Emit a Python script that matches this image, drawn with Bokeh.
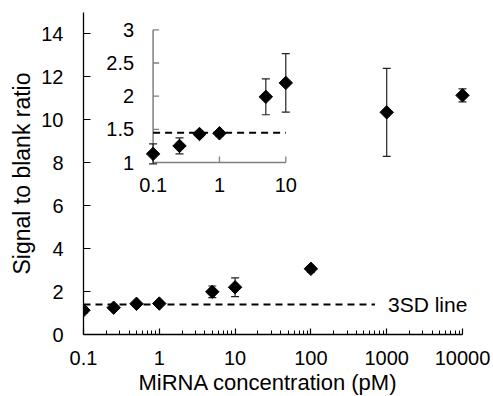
import math
from bokeh.plotting import figure
from bokeh.models import FixedTicker, CustomJSTickFormatter, Range1d, LogScale, Label, Title
from bokeh.core.properties import value
from bokeh.embed import file_html
from bokeh.resources import INLINE

# ---------------- data ----------------
CONC = [0.1, 0.25, 0.5, 1, 5, 10, 100, 1000, 10000]
RATIO = [1.13, 1.25, 1.43, 1.44, 1.99, 2.2, 3.06, 10.35, 11.14]
ERR = [0.15, 0.12, 0.04, 0.04, 0.27, 0.44, 0.15, 2.05, 0.3]
INSET_N = 6
THRESH_MAIN = 1.4
THRESH_INSET = 1.45
SD_LINE_END = 700
X_MIN, X_MAX = 0.1, 10000
Y_MIN, Y_MAX = 0, 15
X_TICKS = [0.1, 1, 10, 100, 1000, 10000]
X_TICK_LABELS = ["0.1", "1", "10", "100", "1000", "10000"]
Y_TICKS = [0, 2, 4, 6, 8, 10, 12, 14]
INSET_X_TICKS = [0.1, 1, 10]
INSET_X_LABELS = ["0.1", "1", "10"]
INSET_Y_TICKS = [1, 1.5, 2, 2.5, 3]
INSET_Y_LABELS = ["1", "1.5", "2", "2.5", "3"]
X_TITLE = "MiRNA concentration (pM)"
Y_TITLE = "Signal to blank ratio"

FONT = "Liberation Sans"

# ---------------- layout ----------------
W, H = 493, 396
BL, BT = 83, 12
AXW, FH = 379, 322          # pixel length of the drawn x axis, frame height
FW = W - BL                 # frame extends to right edge so the label is not clipped
BR, BB = W - BL - FW, H - BT - FH
# inset box in frame pixels (left/right from frame left, bottom/top from frame bottom)
IL, IR, IB, IT = 69.6, 202.3, 172.0, 304.7
X_TITLE_OFFSET = 55

decades_per_px = (math.log10(X_MAX) - math.log10(X_MIN)) / AXW
x_end = 10 ** (math.log10(X_MAX) + (FW - AXW) * decades_per_px)

p = figure(width=W, height=H, x_axis_type="log", x_range=Range1d(X_MIN, x_end),
           y_range=Range1d(Y_MIN, Y_MAX),
           output_backend="svg", toolbar_location=None,
           min_border_left=BL, min_border_right=BR, min_border_top=BT, min_border_bottom=BB)
p.outline_line_color = None
p.xgrid.visible = False
p.ygrid.visible = False
p.background_fill_color = "white"
p.border_fill_color = "white"

# main axes
minor = [m * 10 ** k for k in range(-1, 4) for m in range(2, 10)]
p.xaxis.ticker = FixedTicker(ticks=X_TICKS, minor_ticks=minor)
p.xaxis.bounds = (X_MIN, X_MAX)
p.xaxis.formatter = CustomJSTickFormatter(args=dict(tv=X_TICKS, tl=X_TICK_LABELS), code="""
for (let i = 0; i < tv.length; i++) {
  if (Math.abs(tv[i] - tick) <= 1e-9 * Math.max(1, Math.abs(tick))) return tl[i];
}
return '';
""")
p.yaxis.ticker = FixedTicker(ticks=Y_TICKS, minor_ticks=[])
for ax in (p.xaxis[0], p.yaxis[0]):
    ax.axis_line_color = "black"
    ax.axis_line_width = 1.3
    ax.major_tick_line_color = "black"
    ax.major_tick_line_width = 1.2
    ax.minor_tick_line_color = "black"
    ax.minor_tick_line_width = 1
    ax.major_tick_out = 0
    ax.minor_tick_out = 0
    ax.major_label_text_font = FONT
    ax.major_label_text_font_size = "20px"
    ax.major_label_text_color = "black"
    ax.axis_label_text_font = FONT
    ax.axis_label_text_font_style = "normal"
    ax.axis_label_text_color = "black"

p.xaxis.major_tick_in = 6
p.xaxis.minor_tick_in = 4
p.xaxis.major_label_standoff = 16

p.yaxis.major_tick_in = 7
p.yaxis.minor_tick_in = 0
p.yaxis.major_label_standoff = 20
p.yaxis.axis_label = Y_TITLE
p.yaxis.axis_label_text_font_size = "23px"
p.yaxis.axis_label_standoff = 3

# x-axis title placed under the drawn axis (the frame is wider than the axis)
p.add_layout(Title(text=X_TITLE, align="left", offset=X_TITLE_OFFSET, standoff=0,
                   text_font=FONT, text_font_size="22px", text_font_style="normal",
                   text_color="black"), "below")

# ---------------- main series ----------------
lo = [r - e for r, e in zip(RATIO, ERR)]
hi = [r + e for r, e in zip(RATIO, ERR)]

p.line([CONC[0], SD_LINE_END], [THRESH_MAIN, THRESH_MAIN], line_color="black",
       line_width=2, line_dash="7 5")
p.segment(CONC, lo, CONC, hi, line_color="#222222", line_width=1.2)
p.scatter(CONC, lo, marker="dash", size=8, line_color="#222222", line_width=1.2)
p.scatter(CONC, hi, marker="dash", size=8, line_color="#222222", line_width=1.2)
p.scatter(CONC, RATIO, marker="square", angle=math.pi / 4, size=9.5,
          fill_color="black", line_color="black")
p.add_layout(Label(x=SD_LINE_END, y=THRESH_MAIN, text="3SD line", x_offset=13,
                   text_align="left", text_baseline="middle", text_color="black",
                   text_font=FONT, text_font_size="21px"))

# ---------------- inset (extra ranges) ----------------
lx0, lx1 = math.log10(INSET_X_TICKS[0]), math.log10(INSET_X_TICKS[-1])
dx = (lx1 - lx0) / (IR - IL)
ix_start = 10 ** (lx0 - IL * dx)
ix_end = 10 ** (lx1 + (FW - IR) * dx)
y0i, y1i = INSET_Y_TICKS[0], INSET_Y_TICKS[-1]
dy = (y1i - y0i) / (IT - IB)
iy_start = y0i - IB * dy
iy_end = y1i + (FH - IT) * dy

p.extra_x_ranges = {"ix": Range1d(ix_start, ix_end)}
p.extra_x_scales = {"ix": LogScale()}
p.extra_y_ranges = {"iy": Range1d(iy_start, iy_end)}
R = dict(x_range_name="ix", y_range_name="iy")

GRAY = "#7f7f7f"
xa, xb = INSET_X_TICKS[0], INSET_X_TICKS[-1]
p.segment([xa, xa], [y0i, y0i], [xb, xa], [y0i, y1i], line_color=GRAY, line_width=1.5, **R)
p.ray([xa] * (len(INSET_Y_TICKS) - 1), INSET_Y_TICKS[1:], length=6, length_units="screen",
      angle=0, line_color=GRAY, line_width=1.3, **R)
p.ray(INSET_X_TICKS[1:], [y0i] * (len(INSET_X_TICKS) - 1), length=6, length_units="screen",
      angle=math.pi / 2, line_color=GRAY, line_width=1.3, **R)
p.text([xa] * len(INSET_Y_TICKS), INSET_Y_TICKS, text=INSET_Y_LABELS, x_offset=-19,
       text_align="right", text_baseline="middle", text_color="black",
       text_font=value(FONT), text_font_size=value("20px"), **R)
p.text(INSET_X_TICKS, [y0i] * len(INSET_X_TICKS), text=INSET_X_LABELS, y_offset=15,
       text_align="center", text_baseline="top", text_color="black",
       text_font=value(FONT), text_font_size=value("20px"), **R)

p.line([xa, xb], [THRESH_INSET, THRESH_INSET], line_color="black", line_width=2,
       line_dash="7 5", **R)
cx, cy = CONC[:INSET_N], RATIO[:INSET_N]
clo, chi = lo[:INSET_N], hi[:INSET_N]
p.segment(cx, clo, cx, chi, line_color="#222222", line_width=1.2, **R)
p.scatter(cx, chi, marker="dash", size=8, line_color="#222222", line_width=1.2, **R)
p.scatter(cx, clo, marker="dash", size=8, line_color="#222222", line_width=1.2, **R)
p.scatter(cx, cy, marker="square", angle=math.pi / 4, size=9.5,
          fill_color="black", line_color="black", **R)

open("out.html", "w").write(file_html(p, INLINE))
